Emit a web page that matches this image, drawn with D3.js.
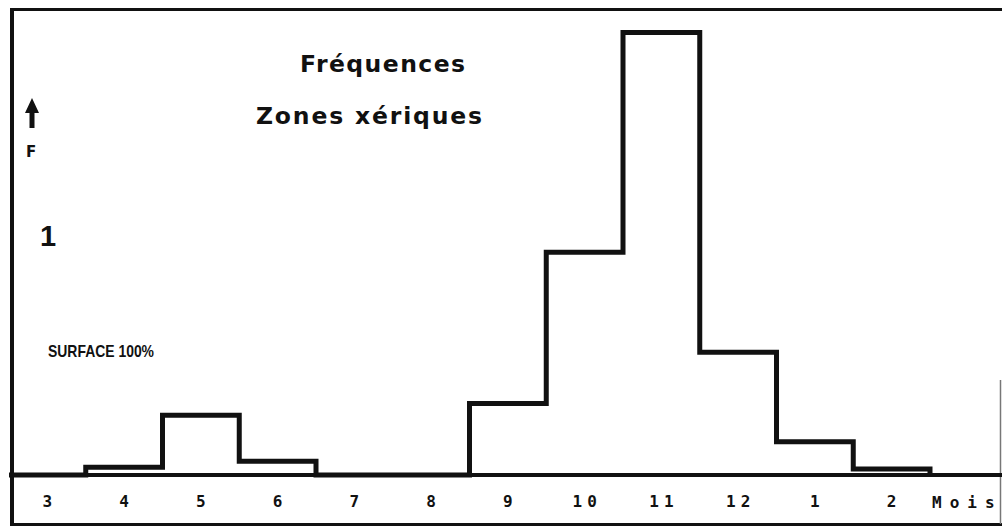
<!DOCTYPE html>
<html>
<head>
<meta charset="utf-8">
<script src="https://cdn.jsdelivr.net/npm/d3@7"></script>
<style>
  body { margin: 0; background: #fff; }
  svg { display: block; }
</style>
</head>
<body>
<svg id="chart" width="1002" height="529"></svg>
<script>
// months of the year, starting in march
const months = ['3', '4', '5', '6', '7', '8', '9', '10', '11', '12', '1', '2'];
// frequencies (% of surface)
const freq = [0, 0.8, 6.1, 1.4, 0, 0, 7.3, 22.7, 45.1, 12.5, 3.4, 0.6];
const titleLines = ['Fréquences', 'Zones xériques'];

const svg = d3.select('#chart');
const ink = '#111';

const x = d3.scaleBand().domain(months).range([9, 930]).padding(0);
const y = d3.scaleLinear().domain([0, 47.5]).range([475, 9]);

// frame
const frame = svg.append('g').attr('stroke', ink).attr('fill', 'none');
frame.append('line').attr('x1', 10).attr('x2', 1002).attr('y1', 9.5).attr('y2', 9.5).attr('stroke-width', 3);
frame.append('line').attr('x1', 12).attr('x2', 12).attr('y1', 8).attr('y2', 526).attr('stroke-width', 4);
frame.append('line').attr('x1', 10).attr('x2', 1002).attr('y1', 524.5).attr('y2', 524.5).attr('stroke-width', 3);
frame.append('line').attr('x1', 1000.5).attr('x2', 1000.5).attr('y1', 380).attr('y2', 524).attr('stroke-width', 1.5).attr('stroke', '#777');

// histogram outline
const pts = [[x(months[0]), y(0)]];
months.forEach((m, i) => {
    pts.push([x(m), y(freq[i])]);
    pts.push([x(m) + x.bandwidth(), y(freq[i])]);
});
pts.push([x(months[months.length - 1]) + x.bandwidth(), y(0)]);

svg.append('path')
    .attr('d', d3.line()(pts))
    .attr('fill', 'none').attr('stroke', ink)
    .attr('stroke-width', 5).attr('stroke-linejoin', 'miter');

// baseline
svg.append('line').attr('x1', 12).attr('x2', 1002)
    .attr('y1', y(0)).attr('y2', y(0))
    .attr('stroke', ink).attr('stroke-width', 4);

// month labels
const axis = svg.append('g')
    .attr('transform', `translate(0,${y(0)})`)
    .call(d3.axisBottom(x).tickSize(0).tickPadding(21));
axis.select('.domain').remove();
axis.selectAll('text')
    .attr('fill', ink)
    .attr('dx', d => d.length > 1 ? '2.5px' : null)
    .style('font-family', '"DejaVu Sans Mono", monospace')
    .style('font-weight', 'bold')
    .style('font-size', '16px')
    .style('letter-spacing', d => d.length > 1 ? '5px' : '0px');

svg.append('text').text('Mois')
    .attr('x', 932).attr('y', 508)
    .attr('fill', ink)
    .style('font-family', '"DejaVu Sans Mono", monospace')
    .style('font-weight', 'bold').style('font-size', '16px')
    .style('letter-spacing', '8px');

// titles
svg.append('text').text(titleLines[0])
    .attr('x', 300).attr('y', 72)
    .attr('textLength', 165).attr('lengthAdjust', 'spacing')
    .attr('fill', ink)
    .style('font-family', '"DejaVu Sans", sans-serif')
    .style('font-weight', 'bold').style('font-size', '23.5px');

svg.append('text').text(titleLines[1])
    .attr('x', 256).attr('y', 124)
    .attr('textLength', 226).attr('lengthAdjust', 'spacing')
    .attr('fill', ink)
    .style('font-family', '"DejaVu Sans", sans-serif')
    .style('font-weight', 'bold').style('font-size', '23.5px');

// y marker: arrow and F
svg.append('path')
    .attr('d', 'M32,98 L39,113 L34.5,113 L34.5,128 L29.5,128 L29.5,113 L25,113 Z')
    .attr('fill', ink);
svg.append('text').text('F')
    .attr('x', 31).attr('y', 157).attr('text-anchor', 'middle')
    .attr('fill', ink)
    .style('font-family', '"DejaVu Sans", sans-serif')
    .style('font-weight', 'bold').style('font-size', '15px');

svg.append('text').text('1')
    .attr('x', 48).attr('y', 246).attr('text-anchor', 'middle')
    .attr('fill', ink)
    .style('font-family', '"Liberation Sans", Arial, sans-serif')
    .style('font-weight', 'bold').style('font-size', '29px');

svg.append('text').text('SURFACE 100%')
    .attr('x', 48).attr('y', 357)
    .attr('textLength', 106).attr('lengthAdjust', 'spacingAndGlyphs')
    .attr('fill', ink)
    .style('font-family', '"Liberation Sans Narrow", "Liberation Sans", sans-serif')
    .style('font-weight', 'bold')
    .style('font-size', '17px');
</script>
</body>
</html>
